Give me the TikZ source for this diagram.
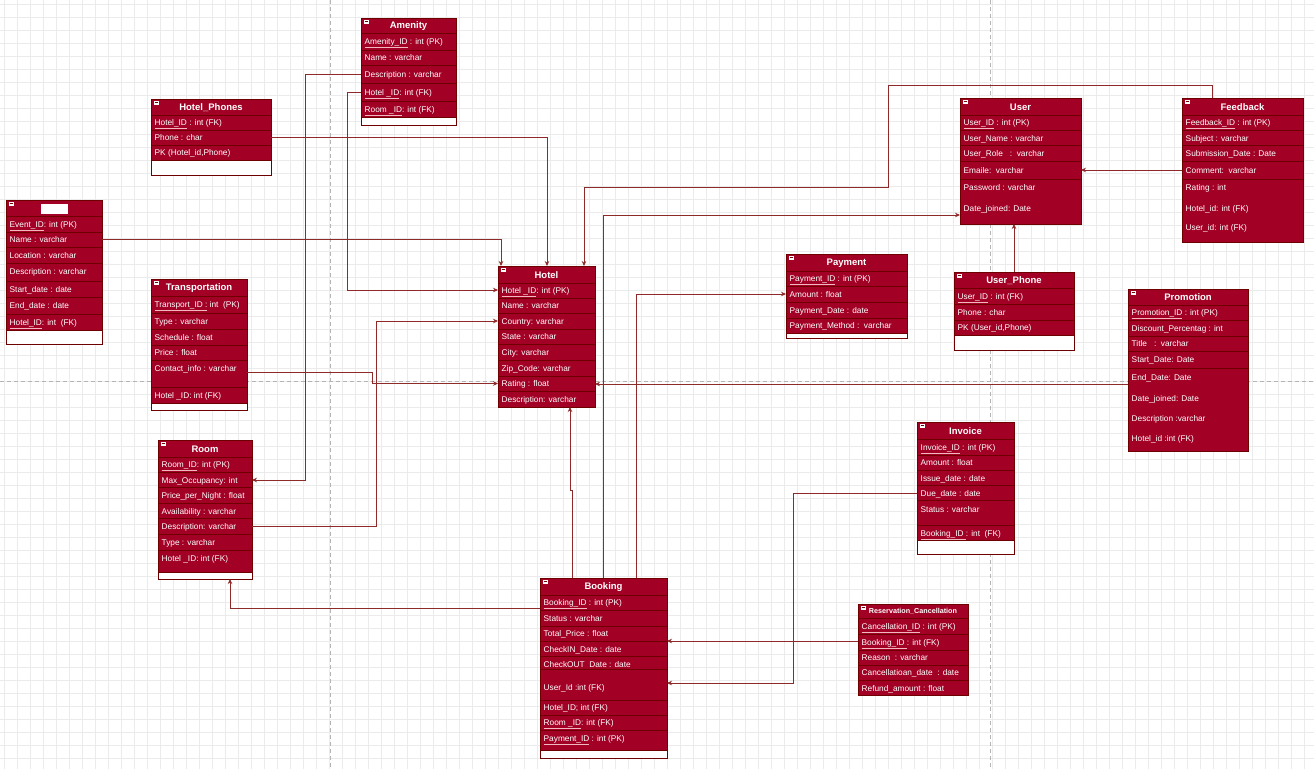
\documentclass[tikz,border=0pt]{standalone}
\usepackage{fontspec}
\setmainfont{Liberation Sans}
\usetikzlibrary{arrows.meta}
\definecolor{crim}{HTML}{A20025}
\definecolor{crimdark}{HTML}{6F0000}
\definecolor{connc}{HTML}{8E2A2A}
\definecolor{gridc}{HTML}{EBEBEB}
\definecolor{gridmaj}{HTML}{DDDDDD}
\definecolor{pagec}{HTML}{B4B4B4}
\definecolor{ulc}{HTML}{F2B8C0}
\newcounter{fldc}
\tikzset{
  tblbox/.style={draw=crimdark, fill=crim, rectangle, anchor=north west, inner sep=0pt, outer sep=0pt, line width=0.8pt},
  rowln/.style={draw=crimdark, line width=0.6pt},
  ttl/.style={text=white, font=\fontsize{9.5}{11}\selectfont\bfseries, inner sep=0pt},
  fld/.style={text=white, font=\fontsize{8.3}{10}\selectfont, anchor=base west, inner sep=0pt},
  conn/.style={draw=connc, line width=0.7pt, -{Stealth[length=5pt,width=4.5pt]}},
  gridln/.style={draw=gridc, line width=0.5pt},
  pageln/.style={draw=pagec, line width=0.6pt, dash pattern=on 4pt off 3pt}
}
% name, x1, y1, x2, y2, header bottom, title
\newcommand\ertable[7]{%
  \node[tblbox, minimum width={(#4-#2)*1pt}, minimum height={(#5-#3)*1pt}] (#1) at (#2,#3) {};
  \draw[rowln] (#2,#6) -- (#4,#6);
  \node[ttl] (#1-t) at ({(#2+#4)/2},{(#3+#6)/2+0.5}) {#7};
  \fill[white] (#2+2.5,#3+1.5) rectangle (#2+7.5,#3+5.5);
  \draw[crimdark, line width=0.5pt] (#2+3.5,#3+3.5) -- (#2+6.5,#3+3.5);
}
\newcommand\erline[3]{\draw[rowln] (#1,#3) -- (#2,#3);}
\newcommand\erwhite[4]{\fill[white] (#1+0.5,#2) rectangle (#3-0.5,#4-0.5); \draw[rowln] (#1,#2) -- (#3,#2);}
\newcommand\erfld[3]{\stepcounter{fldc}\node[fld] (fld\arabic{fldc}) at (#1+3.5,#2+3) {#3};}
\newcommand\ukey[1]{{\color{ulc}\underline{\color{white}#1}}}

\begin{document}
\begin{tikzpicture}[x=1pt, y=-1pt]
\useasboundingbox (0,0) rectangle (1314,769);
\fill[white] (0,0) rectangle (1314,769);
% grid
\foreach \gx in {4,17,...,1314} {\draw[gridln] (\gx,0) -- (\gx,769);}
\foreach \gy in {4,17,...,769} {\draw[gridln] (0,\gy) -- (1314,\gy);}
% page breaks
\draw[pageln] (330,0) -- (330,769);
\draw[pageln] (990,0) -- (990,769);
\draw[pageln] (0,381) -- (1314,381);

% ---------- Amenity
\ertable{amenity}{361}{18}{456}{125}{33}{Amenity}
\erline{361}{456}{50}\erline{361}{456}{65}\erline{361}{456}{83}\erline{361}{456}{101}
\erwhite{361}{117}{456}{125}
\erfld{361}{41.5}{\ukey{Amenity\_ID} : int (PK)}
\erfld{361}{57.5}{Name : varchar}
\erfld{361}{74}{Description : varchar}
\erfld{361}{92}{\ukey{Hotel \_ID}: int (FK)}
\erfld{361}{109}{\ukey{Room \_ID}: int (FK)}

% ---------- Hotel_Phones
\ertable{hphones}{151}{99}{271}{175}{115}{Hotel\_Phones}
\erline{151}{271}{130}\erline{151}{271}{145}
\erwhite{151}{160}{271}{175}
\erfld{151}{122.5}{\ukey{Hotel\_ID} : int (FK)}
\erfld{151}{137.5}{Phone : char}
\erfld{151}{152.5}{PK (Hotel\_id,Phone)}

% ---------- Event (title hidden)
\ertable{event}{6}{200}{102}{344}{216}{}
\fill[white] (41,204) rectangle (68,214);
\erline{6}{102}{232}\erline{6}{102}{247}\erline{6}{102}{263}\erline{6}{102}{281}\erline{6}{102}{297}\erline{6}{102}{314}
\erwhite{6}{330}{102}{344}
\erfld{6}{224}{\ukey{Event\_ID}: int (PK)}
\erfld{6}{239.5}{Name : varchar}
\erfld{6}{255}{Location : varchar}
\erfld{6}{271.5}{Description : varchar}
\erfld{6}{289}{Start\_date : date}
\erfld{6}{305}{End\_date : date}
\erfld{6}{322}{\ukey{Hotel\_ID}: int~~(FK)}

% ---------- Transportation
\ertable{transport}{151}{279}{247}{410}{296}{Transportation}
\erline{151}{247}{313}\erline{151}{247}{329}\erline{151}{247}{345}\erline{151}{247}{360}\erline{151}{247}{387}
\erwhite{151}{403}{247}{410}
\erfld{151}{304.5}{\ukey{Transport\_ID :} int~~(PK)}
\erfld{151}{321}{Type : varchar}
\erfld{151}{337}{Schedule : float}
\erfld{151}{352.5}{Price : float}
\erfld{151}{368}{Contact\_info : varchar}
\erfld{151}{395}{Hotel \_ID: int (FK)}

% ---------- Room
\ertable{room}{158}{440}{252}{579}{457}{Room}
\erline{158}{252}{472}\erline{158}{252}{487}\erline{158}{252}{503}\erline{158}{252}{518}\erline{158}{252}{534}\erline{158}{252}{550}
\erwhite{158}{572}{252}{579}
\erfld{158}{464.5}{\ukey{Room\_ID}: int (PK)}
\erfld{158}{480}{Max\_Occupancy: int}
\erfld{158}{495.5}{Price\_per\_Night : float}
\erfld{158}{511}{Availability : varchar}
\erfld{158}{526.5}{Description: varchar}
\erfld{158}{542}{Type : varchar}
\erfld{158}{558}{Hotel \_ID: int (FK)}

% ---------- Hotel
\ertable{hotel}{498}{266}{595}{407}{283}{Hotel}
\erline{498}{595}{298}\erline{498}{595}{313}\erline{498}{595}{329}\erline{498}{595}{344}\erline{498}{595}{360}\erline{498}{595}{376}\erline{498}{595}{391}
\erfld{498}{290.5}{\ukey{Hotel \_ID}: int (PK)}
\erfld{498}{305.5}{Name : varchar}
\erfld{498}{321}{Country: varchar}
\erfld{498}{336.5}{State : varchar}
\erfld{498}{352}{City: varchar}
\erfld{498}{368}{Zip\_Code: varchar}
\erfld{498}{383.5}{Rating : float}
\erfld{498}{399}{Description: varchar}

% ---------- Payment
\ertable{payment}{786}{254}{907}{338}{271}{Payment}
\erline{786}{907}{286}\erline{786}{907}{302}\erline{786}{907}{318}
\erwhite{786}{333}{907}{338}
\erfld{786}{278.5}{\ukey{Payment\_ID} : int (PK)}
\erfld{786}{294}{Amount : float}
\erfld{786}{310}{Payment\_Date : date}
\erfld{786}{325.5}{Payment\_Method :~~varchar}

% ---------- User
\ertable{user}{960}{98}{1081}{224}{115}{User}
\erline{960}{1081}{130}\erline{960}{1081}{145}\erline{960}{1081}{161}\erline{960}{1081}{179}
\erfld{960}{122}{\ukey{User\_ID} : int (PK)}
\erfld{960}{138}{User\_Name : varchar}
\erfld{960}{153}{User\_Role~~~:~~varchar}
\erfld{960}{170}{Emaile:~~varchar}
\erfld{960}{187}{Password : varchar}
\erfld{960}{208}{Date\_joined: Date}

% ---------- Feedback
\ertable{feedback}{1182}{98}{1303}{242}{115}{Feedback}
\erline{1182}{1303}{130}\erline{1182}{1303}{145}\erline{1182}{1303}{161}\erline{1182}{1303}{179}
\erfld{1182}{122}{\ukey{Feedback\_ID} : int (PK)}
\erfld{1182}{138}{Subject : varchar}
\erfld{1182}{153}{Submission\_Date : Date}
\erfld{1182}{170}{Comment:~~varchar}
\erfld{1182}{187}{Rating : int}
\erfld{1182}{208}{Hotel\_id: int (FK)}
\erfld{1182}{227}{User\_id: int (FK)}

% ---------- User_Phone
\ertable{uphone}{954}{272}{1074}{350}{288}{User\_Phone}
\erline{954}{1074}{304}\erline{954}{1074}{320}
\erwhite{954}{335}{1074}{350}
\erfld{954}{296}{\ukey{User\_ID} : int (FK)}
\erfld{954}{312}{Phone : char}
\erfld{954}{327}{PK (User\_id,Phone)}

% ---------- Promotion
\ertable{promotion}{1128}{289}{1248}{451}{305}{Promotion}
\erline{1128}{1248}{320}\erline{1128}{1248}{336}\erline{1128}{1248}{351}\erline{1128}{1248}{368}
\erfld{1128}{312.5}{\ukey{Promotion\_ID} : int (PK)}
\erfld{1128}{328}{Discount\_Percentag : int}
\erfld{1128}{343.5}{Title~~~:~~varchar}
\erfld{1128}{359.5}{Start\_Date: Date}
\erfld{1128}{377}{End\_Date: Date}
\erfld{1128}{398}{Date\_joined: Date}
\erfld{1128}{418}{Description :varchar}
\erfld{1128}{438}{Hotel\_id :int (FK)}

% ---------- Invoice
\ertable{invoice}{917}{422}{1014}{554}{439}{Invoice}
\erline{917}{1014}{455}\erline{917}{1014}{470}\erline{917}{1014}{485}\erline{917}{1014}{500}\erline{917}{1014}{525}
\erwhite{917}{540}{1014}{554}
\erfld{917}{447}{\ukey{Invoice\_ID} : int (PK)}
\erfld{917}{462.5}{Amount : float}
\erfld{917}{478}{Issue\_date : date}
\erfld{917}{493}{Due\_date : date}
\erfld{917}{509}{Status : varchar}
\erfld{917}{533}{\ukey{Booking\_ID }: int~~(FK)}

% ---------- Booking
\ertable{booking}{540}{578}{667}{758}{595}{Booking}
\erline{540}{667}{610}\erline{540}{667}{626}\erline{540}{667}{641}\erline{540}{667}{656}\erline{540}{667}{669}\erline{540}{667}{700}\erline{540}{667}{715}\erline{540}{667}{730}
\erwhite{540}{750}{667}{758}
\erfld{540}{602.5}{\ukey{Booking\_ID} : int (PK)}
\erfld{540}{618}{Status : varchar}
\erfld{540}{633.5}{Total\_Price : float}
\erfld{540}{649}{CheckIN\_Date : date}
\erfld{540}{664}{CheckOUT~~Date : date}
\erfld{540}{687}{User\_Id :int (FK)}
\erfld{540}{707}{Hotel\_ID; int (FK)}
\erfld{540}{722.5}{\ukey{Room \_ID}: int (FK)}
\erfld{540}{738}{\ukey{Payment\_ID} : int (PK)}

% ---------- Reservation_Cancellation
\ertable{rescan}{858}{604}{968}{695}{618}{\fontsize{7.2}{8}\selectfont Reservation\_Cancellation}
\erline{858}{968}{634}\erline{858}{968}{650}\erline{858}{968}{665}\erline{858}{968}{680}
\erfld{858}{626}{\ukey{Cancellation\_ID} : int (PK)}
\erfld{858}{642}{\ukey{Booking\_ID }: int (FK)}
\erfld{858}{657.5}{Reason~~: varchar}
\erfld{858}{672.5}{Cancellatioan\_date~~: date}
\erfld{858}{688}{Refund\_amount : float}

% ---------- connectors
\draw[conn] (amenity.west |- 0,74) -- (305,74) |- (room.east |- 0,480);
\draw[conn] (amenity.west |- 0,92) -- (347,92) |- (hotel.west |- 0,290);
\draw[conn] (hphones.east |- 0,137) -| (hotel.north -| 547,0);
\draw[conn] (event.east |- 0,239) -| (hotel.north -| 501,0);
\draw[conn] (feedback.north -| 1212,0) |- (888,85) |- (584,187) -- (hotel.north -| 584,0);
\draw[conn] (transport.east |- 0,372) -- (372,372) |- (hotel.west |- 0,383.5);
\draw[conn] (room.east |- 0,526) -- (376,526) |- (hotel.west |- 0,321);
\draw[conn] (promotion.west |- 0,384) -- (hotel.east |- 0,384);
\draw[conn] (booking.north -| 572,0) |- (570,490) -- (hotel.south -| 570,0);
\draw[conn] (booking.north -| 603,0) |- (user.west |- 0,215);
\draw[conn] (booking.north -| 636,0) |- (payment.west |- 0,294);
\draw[conn] (uphone.north -| 1014,0) -- (user.south -| 1014,0);
\draw[conn] (feedback.west |- 0,170) -- (user.east |- 0,170);
\draw[conn] (invoice.west |- 0,493) -- (793,493) |- (booking.east |- 0,683);
\draw[conn] (rescan.west |- 0,641) -- (booking.east |- 0,641);
\draw[conn] (booking.west |- 0,608) -| (room.south -| 230,0);
\end{tikzpicture}
\end{document}
